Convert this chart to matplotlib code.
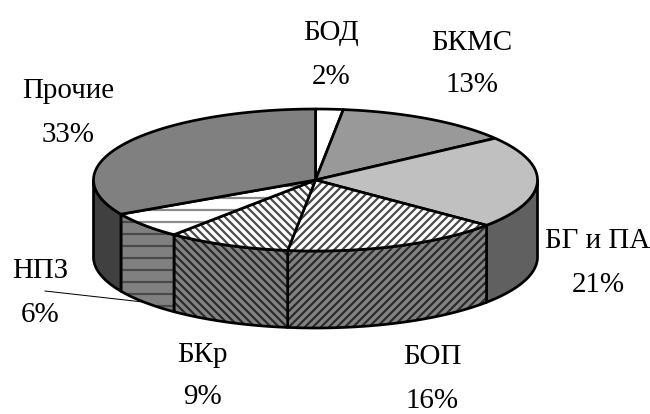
# Круговая диаграмма с объёмным эффектом, построенная из многоугольников

import numpy as np
import matplotlib
matplotlib.use("Agg")
import matplotlib.pyplot as plt
from matplotlib.patches import Polygon

names = ["БОД", "БКМС", "БГ и ПА", "БОП", "БКр", "НПЗ", "Прочие"]
values = [2, 13, 21, 16, 9, 6, 33]

top_colors = ["#ffffff", "#999999", "#c0c0c0", "#ffffff", "#ffffff", "#ffffff", "#808080"]
top_hatches = [None, None, None, "///", "\\\\\\", "-", None]
top_hatch_colors = [None, None, None, "#4a4a4a", "#4a4a4a", "#8c8c8c", None]
side_colors = ["#808080", "#808080", "#606060", "#828282", "#828282", "#808080", "#404040"]
side_hatches = [None, None, None, "///", "\\\\\\", "-", None]
side_hatch_colors = [None, None, None, "#2a2a2a", "#2a2a2a", "#4a4a4a", None]

label_x = [331, 472, 598, 432, 202, 40, 68]
label_y = [55, 64, 263, 379, 376, 293, 113]

cx, cy = 315.5, 180
rx, ry = 222, 71
depth = 77

plt.rcParams["font.family"] = ["Liberation Serif", "DejaVu Serif"]
plt.rcParams["hatch.linewidth"] = 2.2

fig = plt.figure(figsize=(650 / 72, 414 / 72), dpi=72)
ax = fig.add_axes([0, 0, 1, 1])
ax.set_xlim(0, 650)
ax.set_ylim(414, 0)
ax.axis("off")


def arc(t1, t2, dy=0):
    t = np.radians(np.linspace(t1, t2, 80))
    return np.column_stack([cx + rx * np.sin(t), cy + dy - ry * np.cos(t)])


def draw(points, color, hatch, hatch_color):
    # Najpierw wypełnienie z kreskowaniem, potem czarny kontur
    if hatch:
        ax.add_patch(Polygon(points, facecolor=color, edgecolor=hatch_color,
                             hatch=hatch, linewidth=0))
    else:
        ax.add_patch(Polygon(points, facecolor=color, edgecolor="none"))
    ax.add_patch(Polygon(points, facecolor="none", edgecolor="black",
                         linewidth=2.7, joinstyle="round"))


edges = np.cumsum([0] + values) * 3.6

# Boczne ściany widoczne tylko w dolnej połowie elipsy
for i in range(len(values)):
    t1 = max(edges[i], 90)
    t2 = min(edges[i + 1], 270)
    if t1 < t2:
        points = np.vstack([arc(t1, t2), arc(t2, t1, depth)])
        draw(points, side_colors[i], side_hatches[i], side_hatch_colors[i])

# Górna powierzchnia
for i in range(len(values)):
    points = np.vstack([[[cx, cy]], arc(edges[i], edges[i + 1])])
    draw(points, top_colors[i], top_hatches[i], top_hatch_colors[i])

ax.plot([45, 143], [291, 302], color="black", linewidth=1.0)

for i in range(len(values)):
    ax.text(label_x[i], label_y[i], f"{names[i]}\n{values[i]}%", fontsize=29,
            ha="center", va="center", linespacing=1.85, color="black")

fig.savefig("out.png", dpi=72)
